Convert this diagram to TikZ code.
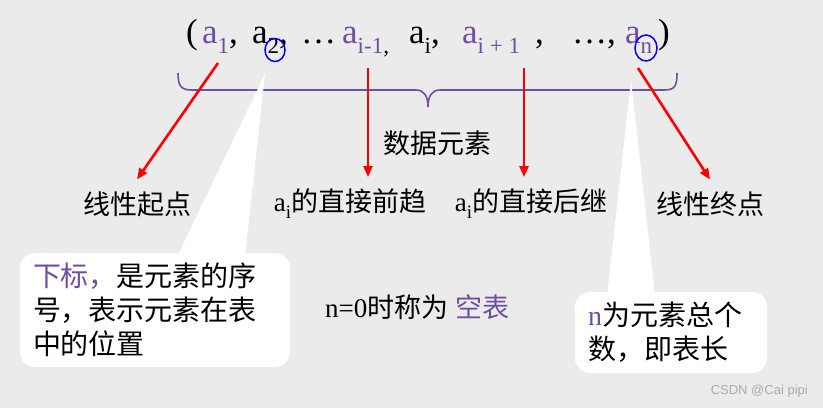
\documentclass[tikz,border=0pt]{standalone}
\usepackage{fontspec}
\setmainfont{Liberation Serif}
\newfontfamily\cjk{Noto Sans CJK SC}
\newfontfamily\wmfont{Liberation Sans}
\usepackage{xcolor}
\usepackage{tikz}
\usetikzlibrary{positioning,arrows.meta,calc,shapes.geometric}
\definecolor{bgg}{HTML}{EBEBEB}
\definecolor{vio}{HTML}{6F4F9F}
\definecolor{rd}{HTML}{FF0000}
\newcommand\sbs[1]{\raisebox{-10pt}{\fontsize{23}{23}\selectfont #1}}
\newcommand\lsb[1]{\raisebox{-7pt}{\fontsize{19}{19}\selectfont #1}}

\begin{document}
\begin{tikzpicture}[x=1pt,y=-1pt,
  elem/.style={anchor=base west,inner sep=0pt,font=\fontsize{35}{35}\selectfont},
  lbl/.style={inner sep=0pt,outer ysep=12pt,font=\fontsize{27}{27}\selectfont\cjk},
  ptr/.style={-{Triangle[length=11pt,width=9pt]},rd,line width=2.6pt},
  ring/.style={ellipse,draw=blue,line width=1.5pt,inner sep=0pt},
  callout/.style={fill=white,rounded corners=15pt,inner sep=0pt,align=left,
    font=\fontsize{28}{34}\selectfont\cjk}]
  \useasboundingbox (0,0) rectangle (823,408);
  \fill[bgg] (0,0) rectangle (823,408);
  % the list
  \node[elem] (lpar) at (186,43) {(};
  \node[elem] (e1) at (202,43) {\textcolor{vio}{a\sbs{1}},};
  \node[elem] (e2) at (252,43) {a\sbs{2},};
  \node[elem] (dotsA) at (301,43) {\ldots};
  \node[elem] (e3) at (342,43) {\textcolor{vio}{a\sbs{i-1}}\sbs{,}};
  \node[elem] (e4) at (409,43) {a\sbs{i},};
  \node[elem] (e5) at (462,43) {\textcolor{vio}{a\sbs{i + 1}}};
  \node[elem] (cm) at (535,43) {,};
  \node[elem] (dotsB) at (572,43) {\ldots,};
  \node[elem] (e6) at (625,43) {\textcolor{vio}{a\sbs{n}}};
  \node[elem] (rpar) at (658,43) {)};
  \node[ring,minimum width=20pt,minimum height=23pt] (o2) at (275,50) {};
  \node[ring,minimum width=22pt,minimum height=26pt] (on) at (646,48) {};
  % brace
  \draw[vio,line width=1.6pt] (178,73) .. controls (178,86) and (181,90) .. (192,90)
    -- (416,90) .. controls (424,90) and (428,96) .. (428,107)
    .. controls (428,96) and (432,90) .. (440,90) -- (664,90)
    .. controls (675,90) and (677,86) .. (677,73);
  \node[lbl] (elems) at (437,143) {数据元素};
  % labels
  \node[lbl] (first) at (137,204) {线性起点};
  \node[lbl] (pred) at (350,204) {{\rmfamily a\lsb{i}}的直接前趋};
  \node[lbl] (succ) at (531,204) {{\rmfamily a\lsb{i}}的直接后继};
  \node[lbl] (last) at (710,204) {线性终点};
  \coordinate (s1) at (218,63);
  \coordinate (s2) at (368,68);
  \coordinate (s3) at (524,68);
  \coordinate (s4) at (638,68);
  \draw[ptr] (s1) -- (first.north);
  \draw[ptr] (s2) -- (s2 |- pred.north);
  \draw[ptr] (s3) -- (s3 |- succ.north);
  \draw[ptr] (s4) -- (last.north);
  \node[anchor=west,inner sep=0pt,font=\fontsize{27}{27}\selectfont] (empty) at (325,307)
    {n=0{\cjk 时称为} \textcolor{vio}{\cjk 空表}};
  % callouts
  \coordinate (tip2) at (265,74);
  \coordinate (tipn) at (631,80);
  \node[callout,minimum width=270pt,minimum height=114pt,text width=244pt] (boxL) at (155,310)
    {\textcolor{vio}{下标，}是元素的序\\号，表示元素在表\\中的位置};
  \node[callout,minimum width=192pt,minimum height=81pt,text width=166pt] (boxR) at (671,332.5)
    {\textcolor{vio}{\rmfamily n}为元素总个\\数，即表长};
  \fill[white] ([xshift=22pt,yshift=-4pt]boxL.north) -- (tip2) -- ([xshift=90pt,yshift=-4pt]boxL.north) -- cycle;
  \fill[white] ([xshift=-64pt,yshift=-4pt]boxR.north) -- (tipn) -- ([xshift=-16pt,yshift=-4pt]boxR.north) -- cycle;
  \node[anchor=east,inner sep=0pt,text=black!33,font=\fontsize{13}{13}\selectfont\wmfont] (mark) at (808,391) {CSDN @Cai pipi};
\end{tikzpicture}
\end{document}
